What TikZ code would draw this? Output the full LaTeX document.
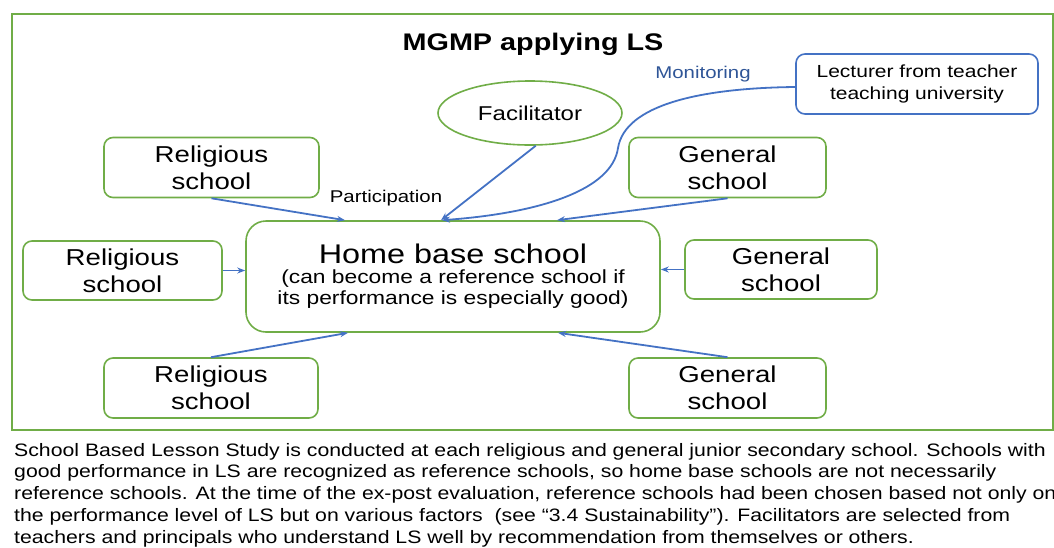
\documentclass[tikz,border=0pt]{standalone}
\usepackage{fontspec}
\setmainfont{Liberation Sans}
\newfontfamily\widesans[FakeStretch=1.2]{Liberation Sans}
\newfontfamily\notesans[FakeStretch=1.18]{Liberation Sans}
\usetikzlibrary{shapes.geometric,arrows.meta}
\definecolor{leafgreen}{HTML}{70AD47}
\definecolor{linkblue}{HTML}{4472C4}
\definecolor{labelblue}{HTML}{2F5597}

\tikzset{
  schoolbox/.style={draw=leafgreen, line width=1.6pt, rounded corners=9pt,
    align=center, inner sep=0pt, minimum height=60pt,
    font=\widesans\fontsize{23}{27}\selectfont},
  link/.style={draw=linkblue, line width=1.8pt,
    -{Stealth[length=8pt,width=6pt]}},
  smalllabel/.style={font=\widesans\fontsize{17}{20}\selectfont, inner sep=0pt},
  noteline/.style={anchor=base west, inner sep=0pt,
    font=\notesans\fontsize{18}{21.75}\selectfont},
}

\begin{document}
\begin{tikzpicture}[x=1pt,y=-1pt]
\useasboundingbox (0,0) rectangle (1054,547);

% outer frame and heading
\node[draw=leafgreen, line width=2pt, minimum width=1041pt, minimum height=416pt,
  inner sep=0pt, anchor=north west] (frame) at (11,13) {};
\node[font=\widesans\bfseries\fontsize{24}{28}\selectfont, anchor=base, inner sep=0pt]
  (title) at (533,50.5) {MGMP applying LS};

% supporting actors
\node[ellipse, draw=leafgreen, line width=1.6pt, minimum width=184pt,
  minimum height=64pt, inner sep=0pt, font=\widesans\fontsize{20}{24}\selectfont]
  (fac) at (530,113) {Facilitator};
\node[draw=linkblue, line width=1.6pt, rounded corners=9pt, minimum width=242pt,
  minimum height=60pt, align=center, inner sep=0pt,
  font=\widesans\fontsize{17.5}{22}\selectfont]
  (lect) at (917,84) {Lecturer from teacher\\teaching university};
\node[smalllabel, text=labelblue] (mon) at (703,74) {Monitoring};
\node[smalllabel] (part) at (386,198) {Participation};

% home base school
\node[draw=leafgreen, line width=1.6pt, rounded corners=20pt, minimum width=414pt,
  minimum height=111pt, align=center, inner sep=0pt,
  font=\widesans\fontsize{19}{21}\selectfont]
  (home) at (453,276.5)
  {{\fontsize{27}{30}\selectfont Home base school}\\[-1pt]
   (can become a reference school if\\its performance is especially good)};

% surrounding schools
\node[schoolbox, minimum width=215pt] (rs1) at (211.5,167.5) {Religious\\school};
\node[schoolbox, minimum width=199pt, minimum height=59pt] (rs2) at (122.5,270.5) {Religious\\school};
\node[schoolbox, minimum width=214pt] (rs3) at (211,388) {Religious\\school};
\node[schoolbox, minimum width=197pt] (gs1) at (727.5,167.5) {General\\school};
\node[schoolbox, minimum width=192pt, minimum height=59pt] (gs2) at (781,269.5) {General\\school};
\node[schoolbox, minimum width=197pt] (gs3) at (727.5,388) {General\\school};

% participation links
\draw[link] (rs1.south) -- ([xshift=-108pt]home.north);
\draw[link] (gs1.south) -- ([xshift=104pt]home.north);
\draw[link] (rs2.east) -- (rs2.east -| home.west);
\draw[link] (gs2.west) -- (gs2.west -| home.east);
\draw[link] (rs3.north) -- ([xshift=-105pt]home.south);
\draw[link] (gs3.north) -- ([xshift=105pt]home.south);

% facilitation and monitoring
\draw[link] (fac.-80) -- ([xshift=-12pt]home.north);
\draw[link] ([yshift=-3pt]lect.west)
  .. controls (700,88) and (625,105) .. (618,148)
  .. controls (612,190) and (540,213) .. ([xshift=-11pt]home.north);

% explanatory note
\node[noteline] (note1) at (14,456) {School Based Lesson Study is conducted at each religious and general junior secondary school. Schools with};
\node[noteline] (note2) at (14,477.75) {good performance in LS are recognized as reference schools, so home base schools are not necessarily};
\node[noteline] (note3) at (14,499.5) {reference schools. At the time of the ex-post evaluation, reference schools had been chosen based not only on};
\node[noteline] (note4) at (14,521.25) {the performance level of LS but on various factors\ \ (see “3.4 Sustainability”). Facilitators are selected from};
\node[noteline] (note5) at (14,543) {teachers and principals who understand LS well by recommendation from themselves or others.};
\end{tikzpicture}
\end{document}
